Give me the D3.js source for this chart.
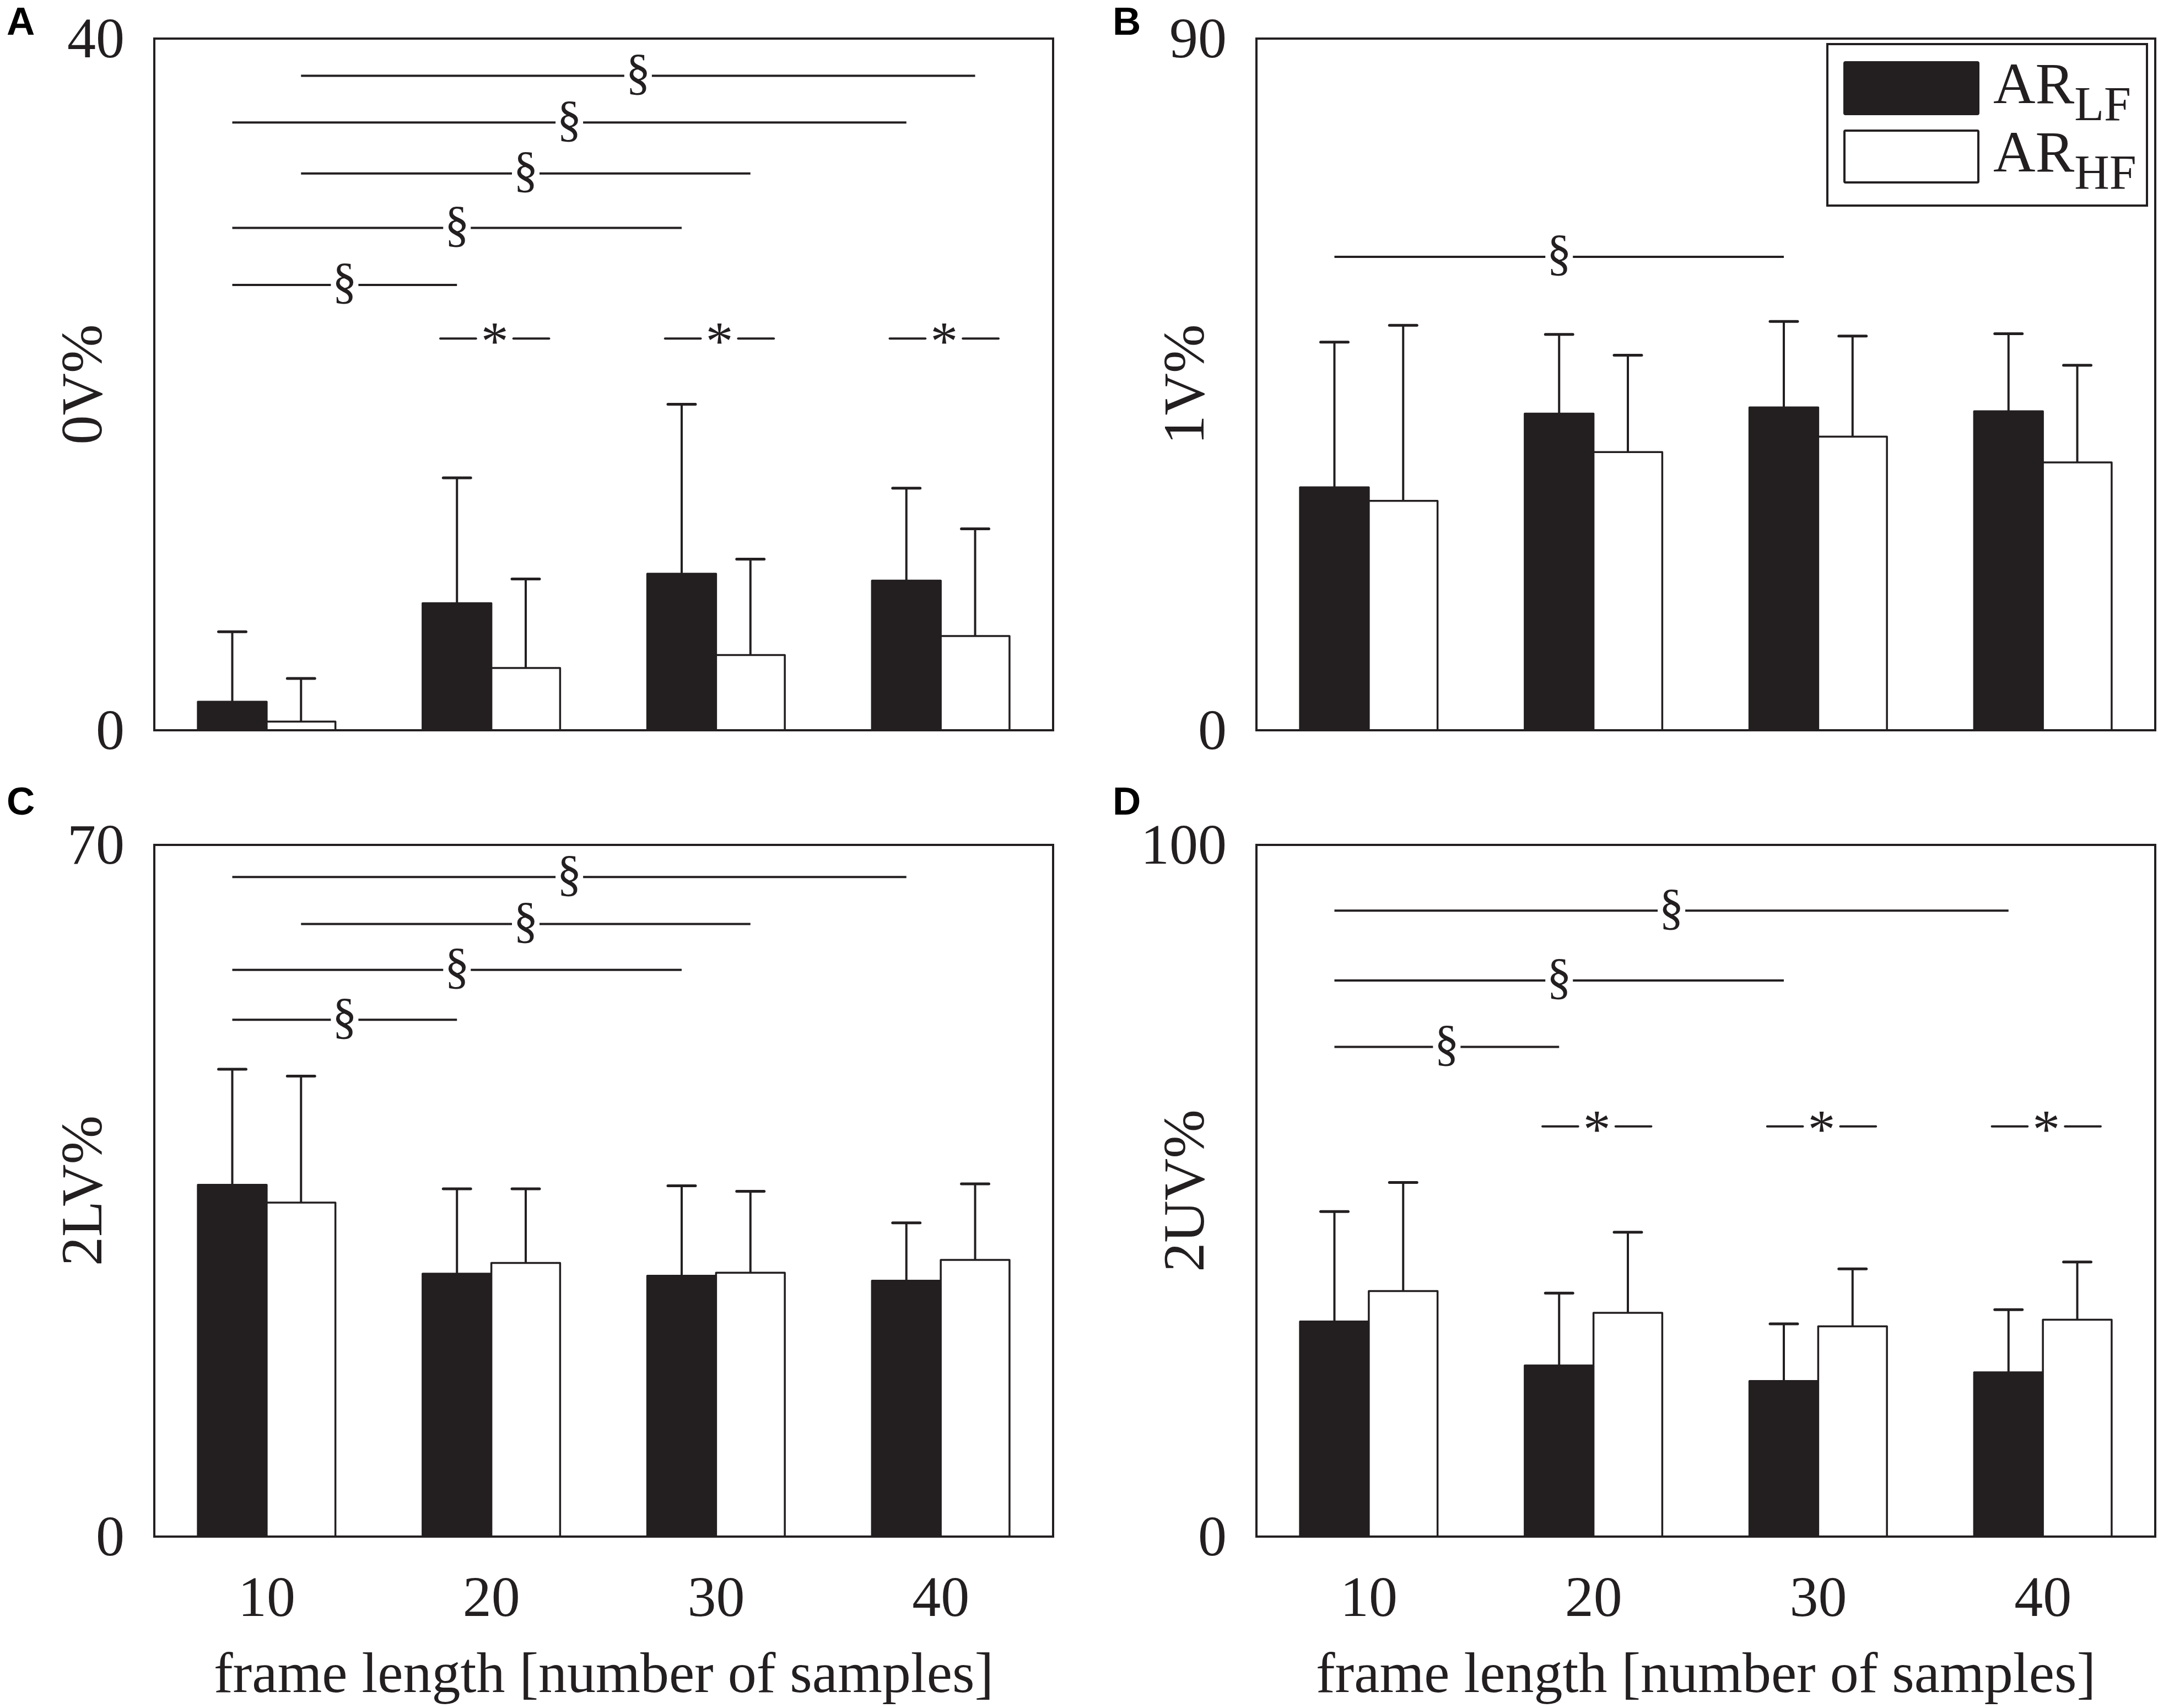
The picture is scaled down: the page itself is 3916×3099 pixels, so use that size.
<!DOCTYPE html>
<html>
<head>
<meta charset="utf-8">
<script src="https://cdn.jsdelivr.net/npm/d3@7"></script>
<style>
  html, body { margin: 0; padding: 0; background: #fff; }
  svg { display: block; }
  .serif { font-family: "Liberation Serif", "Times New Roman", serif; fill: #231f20; }
  .letter { font-family: "Liberation Sans", Arial, sans-serif; font-weight: bold; fill: #000; }
</style>
</head>
<body>
<svg id="chart"></svg>
<script>
// frame lengths and the two AR variants
const groups = ['10', '20', '30', '40'];
const series = ['LF', 'HF'];

// panel A: 0V%
const ovMax = 40;
const ovLF = [1.65, 7.35, 9.05, 8.65];
const ovLFsd = [4.05, 7.25, 9.8, 5.35];
const ovHF = [0.5, 3.6, 4.35, 5.45];
const ovHFsd = [2.5, 5.15, 5.55, 6.2];
const ovSig = [
  { from: ['10', 'HF'], to: ['40', 'HF'], y: 37.85 },
  { from: ['10', 'LF'], to: ['40', 'LF'], y: 35.15 },
  { from: ['10', 'HF'], to: ['30', 'HF'], y: 32.2 },
  { from: ['10', 'LF'], to: ['30', 'LF'], y: 29.05 },
  { from: ['10', 'LF'], to: ['20', 'LF'], y: 25.75 }
];
const ovStars = [{ g: '20', y: 22.65 }, { g: '30', y: 22.65 }, { g: '40', y: 22.65 }];

// panel B: 1V%
const v1Max = 90;
const v1LF = [31.6, 41.2, 42.0, 41.5];
const v1LFsd = [18.9, 10.3, 11.2, 10.1];
const v1HF = [29.85, 36.2, 38.2, 34.85];
const v1HFsd = [22.85, 12.6, 13.1, 12.65];
const v1Sig = [{ from: ['10', 'LF'], to: ['30', 'LF'], y: 61.6 }];
const v1Stars = [];

// panel C: 2LV%
const lvMax = 70;
const lvLF = [35.6, 26.6, 26.4, 25.9];
const lvLFsd = [11.7, 8.6, 9.1, 5.85];
const lvHF = [33.8, 27.7, 26.7, 28.0];
const lvHFsd = [12.8, 7.5, 8.25, 7.7];
const lvSig = [
  { from: ['10', 'LF'], to: ['40', 'LF'], y: 66.75 },
  { from: ['10', 'HF'], to: ['30', 'HF'], y: 62.0 },
  { from: ['10', 'LF'], to: ['30', 'LF'], y: 57.35 },
  { from: ['10', 'LF'], to: ['20', 'LF'], y: 52.3 }
];
const lvStars = [];

// panel D: 2UV%
const uvMax = 100;
const uvLF = [31.1, 24.75, 22.5, 23.75];
const uvLFsd = [15.9, 10.45, 8.25, 9.05];
const uvHF = [35.5, 32.35, 30.4, 31.35];
const uvHFsd = [15.7, 11.65, 8.3, 8.35];
const uvSig = [
  { from: ['10', 'LF'], to: ['40', 'LF'], y: 90.5 },
  { from: ['10', 'LF'], to: ['30', 'LF'], y: 80.4 },
  { from: ['10', 'LF'], to: ['20', 'LF'], y: 70.8 }
];
const uvStars = [{ g: '20', y: 59.3 }, { g: '30', y: 59.3 }, { g: '40', y: 59.3 }];

const xTitle = 'frame length [number of samples]';

const W = 3916, H = 3099;
const INK = '#231f20';
const FS = 104;

const panels = [
  { letter: 'A', title: '0V%', max: ovMax, lf: ovLF, lfsd: ovLFsd, hf: ovHF, hfsd: ovHFsd, sig: ovSig, stars: ovStars,
    box: [280, 1911, 70, 1325], letterPos: [12, 63], xLabels: false, legend: false },
  { letter: 'B', title: '1V%', max: v1Max, lf: v1LF, lfsd: v1LFsd, hf: v1HF, hfsd: v1HFsd, sig: v1Sig, stars: v1Stars,
    box: [2280, 3911, 70, 1325], letterPos: [2019, 63], xLabels: false, legend: true },
  { letter: 'C', title: '2LV%', max: lvMax, lf: lvLF, lfsd: lvLFsd, hf: lvHF, hfsd: lvHFsd, sig: lvSig, stars: lvStars,
    box: [280, 1911, 1533, 2788], letterPos: [12, 1478], xLabels: true, legend: false },
  { letter: 'D', title: '2UV%', max: uvMax, lf: uvLF, lfsd: uvLFsd, hf: uvHF, hfsd: uvHFsd, sig: uvSig, stars: uvStars,
    box: [2280, 3911, 1533, 2788], letterPos: [2019, 1478], xLabels: true, legend: false }
];

const svg = d3.select('#chart').attr('width', W).attr('height', H);

panels.forEach(p => {
  const [x0, x1, y0, y1] = p.box;
  const g = svg.append('g');

  const x = d3.scaleBand().domain(groups).range([x0, x1]);
  const bw = x.bandwidth();
  const xs = d3.scaleBand().domain(series).range([bw * 0.194, bw * 0.806]);
  const y = d3.scaleLinear().domain([0, p.max]).range([y1, y0]);
  const cx = (grp, s) => x(grp) + xs(s) + xs.bandwidth() / 2;

  const rows = [];
  groups.forEach((grp, i) => {
    rows.push({ g: grp, s: 'LF', v: p.lf[i], sd: p.lfsd[i] });
    rows.push({ g: grp, s: 'HF', v: p.hf[i], sd: p.hfsd[i] });
  });

  // error bars (drawn first so the bar outline sits on top)
  const capW = xs.bandwidth() * 0.4;
  rows.forEach(d => {
    const c = cx(d.g, d.s);
    g.append('line')
      .attr('x1', c).attr('x2', c)
      .attr('y1', y(d.v)).attr('y2', y(d.v + d.sd))
      .attr('stroke', INK).attr('stroke-width', 4);
    g.append('line')
      .attr('x1', c - capW / 2).attr('x2', c + capW / 2)
      .attr('y1', y(d.v + d.sd)).attr('y2', y(d.v + d.sd))
      .attr('stroke', INK).attr('stroke-width', 5).attr('stroke-linecap', 'round');
  });

  // bars
  g.selectAll('rect.bar').data(rows).join('rect')
    .attr('class', 'bar')
    .attr('x', d => x(d.g) + xs(d.s))
    .attr('width', xs.bandwidth())
    .attr('y', d => y(d.v))
    .attr('height', d => y(0) - y(d.v))
    .attr('fill', d => d.s === 'LF' ? INK : '#fff')
    .attr('stroke', INK)
    .attr('stroke-width', 3.5)
    .attr('stroke-linejoin', 'round');

  // significance brackets between frame lengths
  p.sig.forEach(s => {
    const xa = cx(s.from[0], s.from[1]);
    const xb = cx(s.to[0], s.to[1]);
    const mid = (xa + xb) / 2;
    const yy = y(s.y);
    g.append('line').attr('x1', xa).attr('x2', mid - 25).attr('y1', yy).attr('y2', yy)
      .attr('stroke', INK).attr('stroke-width', 4);
    g.append('line').attr('x1', mid + 25).attr('x2', xb).attr('y1', yy).attr('y2', yy)
      .attr('stroke', INK).attr('stroke-width', 4);
    g.append('text').attr('class', 'serif')
      .attr('x', mid).attr('y', yy).attr('dy', '0.26em')
      .attr('text-anchor', 'middle').style('font-size', '90px')
      .text('§');
  });

  // LF vs HF stars
  p.stars.forEach(s => {
    const c = x(s.g) + bw * 0.515;
    const half = bw * 0.242;
    const yy = y(s.y);
    g.append('line').attr('x1', c - half).attr('x2', c - 34).attr('y1', yy).attr('y2', yy)
      .attr('stroke', INK).attr('stroke-width', 4).attr('stroke-linecap', 'round');
    g.append('line').attr('x1', c + 34).attr('x2', c + half).attr('y1', yy).attr('y2', yy)
      .attr('stroke', INK).attr('stroke-width', 4).attr('stroke-linecap', 'round');
    g.append('text').attr('class', 'serif')
      .attr('x', c).attr('y', yy).attr('dy', '0.38em')
      .attr('text-anchor', 'middle').style('font-size', '100px')
      .text('*');
  });

  // frame
  g.append('rect')
    .attr('x', x0).attr('y', y0)
    .attr('width', x1 - x0).attr('height', y1 - y0)
    .attr('fill', 'none').attr('stroke', INK).attr('stroke-width', 4);

  // y axis: only the end ticks are labelled
  const ya = g.append('g').attr('transform', `translate(${x0},0)`)
    .call(d3.axisLeft(y).tickValues([0, p.max]).tickSize(0).tickPadding(54));
  ya.select('.domain').remove();
  ya.selectAll('text').attr('class', 'serif').style('font-size', FS + 'px')
    .attr('fill', INK).attr('font-family', null);

  g.append('text').attr('class', 'serif')
    .attr('transform', `translate(${x0 - 96},${(y0 + y1) / 2}) rotate(-90)`)
    .attr('text-anchor', 'middle').style('font-size', '106px')
    .text(p.title);

  if (p.xLabels) {
    const xa = g.append('g').attr('transform', `translate(0,${y1})`)
      .call(d3.axisBottom(x).tickSize(0).tickPadding(70));
    xa.select('.domain').remove();
    xa.selectAll('text').attr('class', 'serif').style('font-size', FS + 'px')
      .attr('fill', INK).attr('font-family', null);
    g.append('text').attr('class', 'serif')
      .attr('x', (x0 + x1) / 2).attr('y', y1 + 282)
      .attr('text-anchor', 'middle').style('font-size', FS + 'px')
      .text(xTitle);
  }

  if (p.legend) {
    const lx0 = x1 - 595, lx1 = x1 - 15, ly0 = y0 + 10, ly1 = y0 + 303;
    g.append('rect').attr('x', lx0).attr('y', ly0)
      .attr('width', lx1 - lx0).attr('height', ly1 - ly0)
      .attr('fill', '#fff').attr('stroke', INK).attr('stroke-width', 4);
    const items = series.map((s, i) => ({ s, top: ly0 + 33 + i * 124 }));
    items.forEach(it => {
      g.append('rect').attr('x', lx0 + 31).attr('y', it.top)
        .attr('width', 243).attr('height', 94)
        .attr('fill', it.s === 'LF' ? INK : '#fff')
        .attr('stroke', INK).attr('stroke-width', 4).attr('rx', 2);
      const t = g.append('text').attr('class', 'serif')
        .attr('x', lx0 + 301).attr('y', it.top + 74)
        .style('font-size', '106px');
      t.append('tspan').text('AR');
      t.append('tspan').attr('dy', 31).style('font-size', '88px').text(it.s);
    });
  }

  svg.append('text').attr('class', 'letter')
    .attr('x', p.letterPos[0]).attr('y', p.letterPos[1])
    .style('font-size', '71px')
    .text(p.letter);
});
</script>
</body>
</html>
